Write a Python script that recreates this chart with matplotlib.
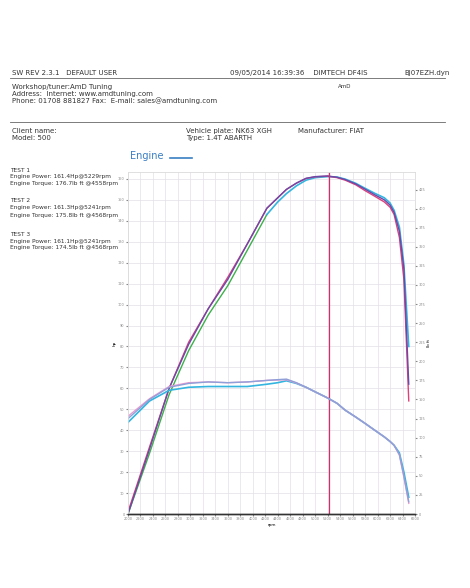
import matplotlib
matplotlib.use("Agg")
import matplotlib.pyplot as plt

rpm = [2000, 2345, 2659, 2972, 3286, 3599, 3913, 4226, 4400, 4540, 4700, 4854, 5000, 5199, 5350, 5481, 5650, 5794, 5950, 6108, 6200, 6265, 6350, 6422, 6500]
power1 = [0, 31, 60, 81, 98, 112, 129, 146, 151, 155, 158, 160.3, 161.1, 161.4, 160.8, 159.7, 157.6, 155.2, 152.5, 150, 147.5, 144, 135, 117, 62]
power2 = [1, 32, 60, 82, 98, 113, 129, 146, 151, 155, 158, 160.2, 161.0, 161.3, 160.6, 159.4, 157.2, 154.5, 151.8, 149, 146.5, 143, 132, 112, 54]
power3 = [0, 29, 57, 78, 95, 109, 126, 143, 149, 153, 156.7, 159.4, 160.6, 161.1, 160.9, 159.9, 157.9, 155.6, 153.2, 151, 148.5, 145, 137, 119, 80]
torque1 = [125, 150, 166, 171, 173, 172, 173, 175, 176, 176.7, 172, 166, 160, 152, 145, 136, 127, 119, 110, 101, 95, 90, 78, 50, 16]
torque2 = [128, 151, 167, 172, 173, 172, 173, 175, 175.5, 175.8, 171.5, 166, 160, 152, 145, 136, 127, 119, 110, 101, 95, 90, 77, 48, 14]
torque3 = [120, 148, 162, 166, 167, 167, 167, 170, 172, 174.5, 171, 166, 160, 152, 145, 136, 127, 119, 110, 101, 95, 90, 80, 55, 22]
xticks = list(range(2000, 6601, 200))

fig = plt.figure(figsize=(4.7, 5.88), dpi=100)
fs = 5.0
def T(x, y, s, **k):
    fig.text(x/470, 1-y/588, s, fontsize=k.pop('fs', fs), va='center', color=k.pop('c', '#333'), **k)
T(12, 73, "SW REV 2.3.1   DEFAULT USER")
T(230, 73, "09/05/2014 16:39:36    DIMTECH DF4IS")
T(404, 73, "BJ07EZH.dyn")
T(338, 86, "AmD", fs=4)
T(12, 87, "Workshop/tuner:AmD Tuning")
T(12, 94, "Address:  Internet: www.amdtuning.com")
T(12, 101, "Phone: 01708 881827 Fax:  E-mail: sales@amdtuning.com")
T(12, 131, "Client name:")
T(12, 138, "Model: 500")
T(186, 131, "Vehicle plate: NK63 XGH")
T(186, 138, "Type: 1.4T ABARTH")
T(298, 131, "Manufacturer: FIAT")
T(130, 156, "Engine", fs=7, c='#3a7fc4')
fig.add_artist(plt.Line2D([170/470, 192/470], [1-158/588]*2, color='#3a7fc4', lw=1.2))
for y in (78, 122):
    fig.add_artist(plt.Line2D([10/470, 445/470], [1-y/588]*2, color='#666', lw=0.6))
tests = [("TEST 1", "161.4Hp@5229rpm", "176.7lb ft @4558rpm", 170),
         ("TEST 2", "161.3Hp@5241rpm", "175.8lb ft @4568rpm", 201),
         ("TEST 3", "161.1Hp@5241rpm", "174.5lb ft @4568rpm", 234)]
for n, p, t, y in tests:
    T(10, y, n, fs=4.2); T(10, y+7, "Engine Power: " + p, fs=4.2); T(10, y+14, "Engine Torque: " + t, fs=4.2)

ax = fig.add_axes([128/470, 1-514/588, 287/470, 342/588])
ax2 = ax.twinx()
ax.plot(rpm[:8], power3[:8], color='#3cb04a', lw=1.0)
ax.plot(rpm[7:], power3[7:], color='#33b5e0', lw=1.2)
ax.plot(rpm, power2, color='#e0407a', lw=1.0)
ax.plot(rpm, power1, color='#6a4aa8', lw=1.0)
ax2.plot(rpm, torque3, color='#33b5e0', lw=1.2)
ax2.plot(rpm, torque2, color='#e79ad0', lw=1.0)
ax2.plot(rpm, torque1, color='#8fa0d8', lw=1.0)
ax.axvline(5229, color='#d0306a', lw=0.9)
ax.set_xlim(2000, 6500); ax.set_ylim(0, 163.3); ax2.set_ylim(0, 448)
ax.set_xticks(xticks)
ax.set_xticklabels([str(v) for v in xticks], fontsize=2.5, color='#777')
ax.set_yticks(range(0, 170, 10))
ax.tick_params(labelsize=2.5, colors='#888', length=1.5, pad=1)
ax2.set_yticks(range(0, 449, 25))
ax2.tick_params(labelsize=2.5, colors='#888', length=1.5, pad=1)
ax.grid(color='#e4e0e8', lw=0.5)
ax.set_xlabel("rpm", fontsize=3, labelpad=1)
ax.set_ylabel("hp", fontsize=3, labelpad=1)
ax2.set_ylabel("lb ft", fontsize=3, labelpad=1)
for a in (ax, ax2):
    for s in a.spines.values():
        s.set_color('#ddd'); s.set_linewidth(0.5)
    a.spines['bottom'].set_color('#333'); a.spines['bottom'].set_linewidth(1)
fig.savefig("out.png", dpi=100, facecolor='white')
